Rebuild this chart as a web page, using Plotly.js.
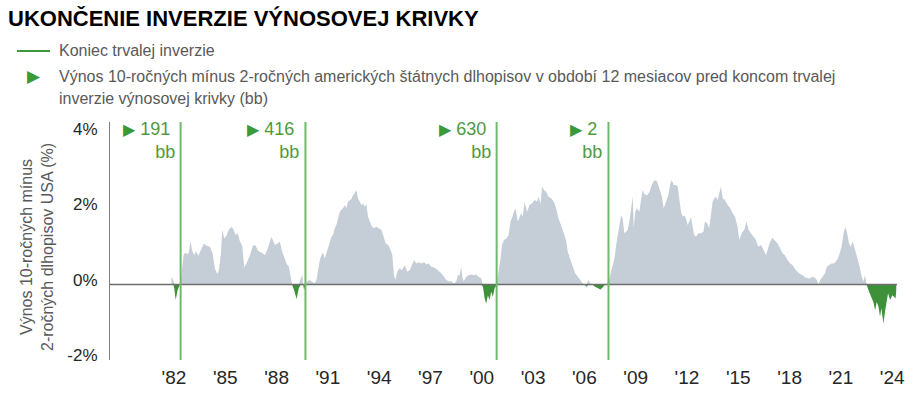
<!DOCTYPE html>
<html>
<head>
<meta charset="utf-8">
<script src="https://cdn.plot.ly/plotly-3.0.1.min.js"></script>
<style>html,body{margin:0;padding:0;background:#fff;}#chart{width:916px;height:397px;}</style>
</head>
<body>
<div id="chart"></div>
<script>
// Decimal years and 10y-2y spread (%)
const years = [1981.86,1981.96,1982.02,1982.10,1982.21,1982.33,1982.39,1982.49,1982.56,1982.68,1982.80,1982.88,1982.97,1983.07,1983.19,1983.29,1983.42,1983.58,1983.75,1983.91,1984.10,1984.26,1984.39,1984.53,1984.63,1984.75,1984.82,1984.94,1985.08,1985.21,1985.37,1985.49,1985.60,1985.72,1985.86,1985.99,1986.11,1986.24,1986.44,1986.63,1986.77,1986.93,1987.12,1987.32,1987.51,1987.70,1987.90,1988.06,1988.19,1988.33,1988.48,1988.58,1988.72,1988.83,1988.91,1989.03,1989.17,1989.30,1989.42,1989.50,1989.56,1989.61,1989.69,1989.81,1989.94,1990.08,1990.23,1990.33,1990.43,1990.53,1990.62,1990.72,1990.82,1990.92,1991.01,1991.11,1991.21,1991.31,1991.40,1991.50,1991.60,1991.70,1991.79,1991.89,1991.99,1992.08,1992.18,1992.28,1992.38,1992.47,1992.57,1992.67,1992.76,1992.86,1992.96,1993.06,1993.15,1993.25,1993.35,1993.45,1993.58,1993.70,1993.83,1993.97,1994.13,1994.26,1994.38,1994.52,1994.67,1994.77,1994.87,1994.95,1995.06,1995.20,1995.33,1995.49,1995.65,1995.79,1995.92,1996.04,1996.17,1996.31,1996.47,1996.62,1996.76,1996.89,1997.05,1997.20,1997.34,1997.48,1997.63,1997.79,1997.93,1998.06,1998.22,1998.37,1998.51,1998.60,1998.70,1998.80,1998.86,1998.95,1999.09,1999.23,1999.38,1999.54,1999.68,1999.81,1999.97,2000.07,2000.17,2000.26,2000.36,2000.46,2000.55,2000.65,2000.75,2000.87,2000.98,2001.08,2001.18,2001.30,2001.43,2001.57,2001.68,2001.76,2001.88,2001.97,2002.11,2002.21,2002.30,2002.40,2002.50,2002.66,2002.79,2002.93,2003.09,2003.24,2003.32,2003.44,2003.53,2003.63,2003.77,2003.90,2004.06,2004.21,2004.35,2004.49,2004.64,2004.80,2004.94,2005.03,2005.19,2005.33,2005.46,2005.62,2005.77,2005.91,2006.04,2006.12,2006.24,2006.35,2006.49,2006.63,2006.78,2006.94,2007.07,2007.21,2007.33,2007.47,2007.56,2007.66,2007.76,2007.86,2007.95,2008.05,2008.15,2008.24,2008.34,2008.44,2008.54,2008.63,2008.73,2008.83,2008.89,2008.98,2009.08,2009.22,2009.31,2009.41,2009.51,2009.67,2009.81,2009.94,2010.10,2010.25,2010.39,2010.53,2010.64,2010.78,2010.91,2011.03,2011.11,2011.22,2011.36,2011.46,2011.55,2011.65,2011.75,2011.85,2011.94,2012.04,2012.14,2012.24,2012.33,2012.43,2012.53,2012.66,2012.82,2012.97,2013.05,2013.17,2013.30,2013.40,2013.50,2013.60,2013.69,2013.79,2013.89,2013.99,2014.09,2014.22,2014.38,2014.53,2014.67,2014.81,2014.96,2015.06,2015.20,2015.35,2015.49,2015.60,2015.74,2015.90,2016.03,2016.17,2016.33,2016.48,2016.62,2016.72,2016.87,2016.99,2017.14,2017.30,2017.45,2017.59,2017.73,2017.88,2018.04,2018.17,2018.37,2018.56,2018.76,2018.95,2019.15,2019.34,2019.48,2019.60,2019.70,2019.79,2019.93,2020.07,2020.18,2020.32,2020.45,2020.61,2020.77,2020.90,2021.04,2021.16,2021.25,2021.35,2021.48,2021.58,2021.68,2021.78,2021.93,2022.07,2022.20,2022.32,2022.41,2022.51,2022.65,2022.79,2022.90,2023.00,2023.10,2023.20,2023.29,2023.37,2023.49,2023.58,2023.68,2023.76,2023.88,2024.01,2024.11,2024.20,2024.24];
const spread = [0.21,0.12,-0.10,-0.41,-0.15,-0.01,0.03,0.52,0.78,0.85,0.80,0.87,1.15,0.89,0.78,0.89,0.76,0.92,1.09,1.03,1.00,0.83,0.43,0.28,0.38,0.83,1.45,1.22,1.31,1.45,1.53,1.45,1.31,1.36,1.14,1.03,0.45,0.56,0.78,1.05,1.03,0.89,0.85,0.78,0.98,1.27,1.05,1.09,1.14,0.87,0.69,0.56,0.47,0.25,-0.01,-0.15,-0.38,-0.10,0.16,0.27,-0.01,-0.15,0.03,0.09,0.12,0.08,0.03,0.12,0.43,0.65,0.78,0.85,0.69,0.83,1.00,1.15,1.27,1.33,1.49,1.58,1.75,1.93,1.98,2.02,2.11,2.02,2.20,2.24,2.27,2.37,2.42,2.51,2.29,2.20,2.11,2.15,2.06,2.13,1.80,1.67,1.53,1.49,1.53,1.49,1.45,1.27,1.09,1.05,0.92,0.78,0.25,0.12,0.34,0.43,0.38,0.51,0.34,0.38,0.52,0.65,0.56,0.59,0.56,0.59,0.53,0.56,0.47,0.45,0.41,0.36,0.30,0.21,0.12,0.09,0.09,0.03,0.08,0.25,0.25,0.47,0.21,0.09,0.21,0.25,0.27,0.25,0.27,0.21,0.16,-0.06,-0.37,-0.50,-0.28,-0.41,-0.19,-0.32,-0.10,-0.01,0.34,0.61,1.05,1.18,1.22,1.31,1.67,1.75,1.93,2.02,1.67,1.80,1.89,1.80,2.18,1.93,2.11,2.15,2.24,2.20,2.33,2.15,2.60,2.51,2.46,2.33,2.29,2.20,2.02,1.75,1.58,1.36,1.14,0.87,0.65,0.47,0.30,0.21,0.12,0.03,-0.01,-0.06,0.12,0.03,-0.01,-0.06,-0.10,-0.13,-0.08,0.00,0.03,0.16,0.34,0.52,0.69,1.05,1.27,1.49,1.84,1.75,1.36,1.40,1.45,1.67,2.02,2.33,1.49,1.93,2.02,1.93,2.24,2.51,2.40,2.36,2.46,2.64,2.77,2.73,2.55,2.33,2.02,2.20,2.37,2.68,2.77,2.64,2.64,2.60,2.24,1.93,1.80,1.84,1.75,1.58,1.67,1.80,1.53,1.31,1.27,1.36,1.36,1.40,1.67,1.63,1.49,1.93,2.20,2.29,2.33,2.24,2.42,2.60,2.29,2.24,2.11,2.02,1.89,1.80,1.53,1.18,1.36,1.45,1.67,1.45,1.36,1.27,1.18,1.00,1.05,0.92,0.78,0.92,1.14,1.24,1.18,1.09,0.96,0.83,0.78,0.65,0.56,0.52,0.38,0.30,0.25,0.18,0.16,0.21,0.18,0.12,-0.01,0.12,0.21,0.30,0.47,0.52,0.56,0.56,0.65,0.78,1.00,1.36,1.53,1.40,1.09,1.00,1.14,1.00,0.78,0.52,0.25,0.08,0.25,-0.01,-0.19,-0.32,-0.46,-0.68,-0.46,-0.59,-0.85,-0.63,-1.03,-0.72,-0.37,-0.23,-0.41,-0.28,-0.32,-0.37,-0.15];

// End of persistent inversion (decimal years) and spread 12 months before (bp)
const inversionEnds = [1982.39, 1989.69, 2000.87, 2007.41];
const spreadBp = ['191', '416', '630', '2'];

const xTickVals = [1982,1985,1988,1991,1994,1997,2000,2003,2006,2009,2012,2015,2018,2021,2024];
const xTickText = ["'82","'85","'88","'91","'94","'97","'00","'03","'06","'09","'12","'15","'18","'21","'24"];
const yTickVals = [-2, 0, 2, 4];
const yTickText = ['-2%', '0%', '2%', '4%'];

const GRAY = '#c5cdd7', GREEN = '#3d9139', LINEGREEN = '#6dbb6a', TXTGREEN = '#4e9a3c', TRI = '#3a9a3a';
const FONT = 'Liberation Sans, Arial, sans-serif';
const TRIFONT = 'DejaVu Sans, sans-serif';

const pos = spread.map(v => v > 0 ? v : 0);
const neg = spread.map(v => v < 0 ? v : 0);

// plot area in pixels: left 110, right 899, top 122, bottom 360
const L = 110, R = 899, T = 122, B = 360;
const px = x => (x - L) / (R - L);
const py = y => (B - y) / (B - T);

const traces = [
  {x: years, y: pos, type: 'scatter', mode: 'lines', fill: 'tozeroy', fillcolor: GRAY, line: {width: 0, color: GRAY}, hoverinfo: 'skip', showlegend: false},
  {x: years, y: neg, type: 'scatter', mode: 'lines', fill: 'tozeroy', fillcolor: GREEN, line: {width: 0, color: GREEN}, hoverinfo: 'skip', showlegend: false}
];

const shapes = [
  {type: 'line', xref: 'paper', yref: 'y', x0: 0, x1: px(897), y0: 0, y1: 0, line: {color: '#6e6e6e', width: 1.5}, layer: 'above'},
  {type: 'line', xref: 'paper', yref: 'paper', x0: px(17), x1: px(50), y0: py(51), y1: py(51), line: {color: '#3a9a3a', width: 2}}
];
inversionEnds.forEach(d => shapes.push({type: 'line', xref: 'x', yref: 'paper', x0: d, x1: d, y0: 0, y1: 1, line: {color: LINEGREEN, width: 2}, layer: 'above'}));

const annotations = [
  {xref: 'paper', yref: 'paper', x: px(57), y: py(51), xanchor: 'left', yanchor: 'middle', showarrow: false,
   text: 'Koniec trvalej inverzie', font: {family: FONT, size: 16, color: '#595959'}},
  {xref: 'paper', yref: 'paper', x: px(34), y: py(76), xanchor: 'center', yanchor: 'middle', showarrow: false,
   text: '▶', font: {family: TRIFONT, size: 17, color: TRI}},
  {xref: 'paper', yref: 'paper', x: px(57), y: py(76), xanchor: 'left', yanchor: 'middle', showarrow: false,
   text: 'Výnos 10-ročných mínus 2-ročných amerických štátnych dlhopisov v období 12 mesiacov pred koncom trvalej', font: {family: FONT, size: 16, color: '#595959'}},
  {xref: 'paper', yref: 'paper', x: px(57), y: py(99), xanchor: 'left', yanchor: 'middle', showarrow: false,
   text: 'inverzie výnosovej krivky (bb)', font: {family: FONT, size: 16, color: '#595959'}},
  {xref: 'paper', yref: 'paper', x: px(37), y: py(247), xanchor: 'center', yanchor: 'middle', showarrow: false, textangle: -90,
   text: 'Výnos 10-ročných mínus<br>2-ročných dlhopisov USA (%)', font: {family: FONT, size: 16, color: '#595959'}}
];
inversionEnds.forEach((d, i) => {
  annotations.push({
    xref: 'x', yref: 'paper', x: d, y: 1, xanchor: 'right', yanchor: 'top', align: 'right', showarrow: false,
    xshift: -4, yshift: 5,
    text: '<span style="font-family:DejaVu Sans;font-size:16px;color:' + TRI + '">▶</span>\u00a0' + spreadBp[i] + '\u00a0<br>bb',
    font: {family: FONT, size: 18, color: TXTGREEN}
  });
});

const layout = {
  width: 916, height: 397,
  margin: {l: L, r: 916 - R, t: T, b: 397 - B},
  paper_bgcolor: '#fff', plot_bgcolor: '#fff',
  showlegend: false,
  title: {text: '<b>UKONČENIE INVERZIE VÝNOSOVEJ KRIVKY</b>', xref: 'container', yref: 'container', x: 8/916, xanchor: 'left', y: 1 - 18/397, yanchor: 'middle',
          font: {family: FONT, size: 22, color: '#000'}},
  xaxis: {range: [1978.26, 2024.4], tickmode: 'array', tickvals: xTickVals, ticktext: xTickText, showgrid: false, zeroline: false, showline: false, ticks: '',
          ticklabelstandoff: 4, tickfont: {family: FONT, size: 19, color: '#262626'}, fixedrange: true},
  yaxis: {range: [-2, 4.31], tickmode: 'array', tickvals: yTickVals, ticktext: yTickText, showgrid: false, zeroline: false, showline: true, linecolor: '#7f7f7f', linewidth: 1,
          ticks: '', ticklabelstandoff: 8, ticklabelshift: -5, tickfont: {family: FONT, size: 17, color: '#262626'}, fixedrange: true},
  shapes: shapes,
  annotations: annotations
};

Plotly.newPlot('chart', traces, layout, {displayModeBar: false, staticPlot: true});
</script>
</body>
</html>
